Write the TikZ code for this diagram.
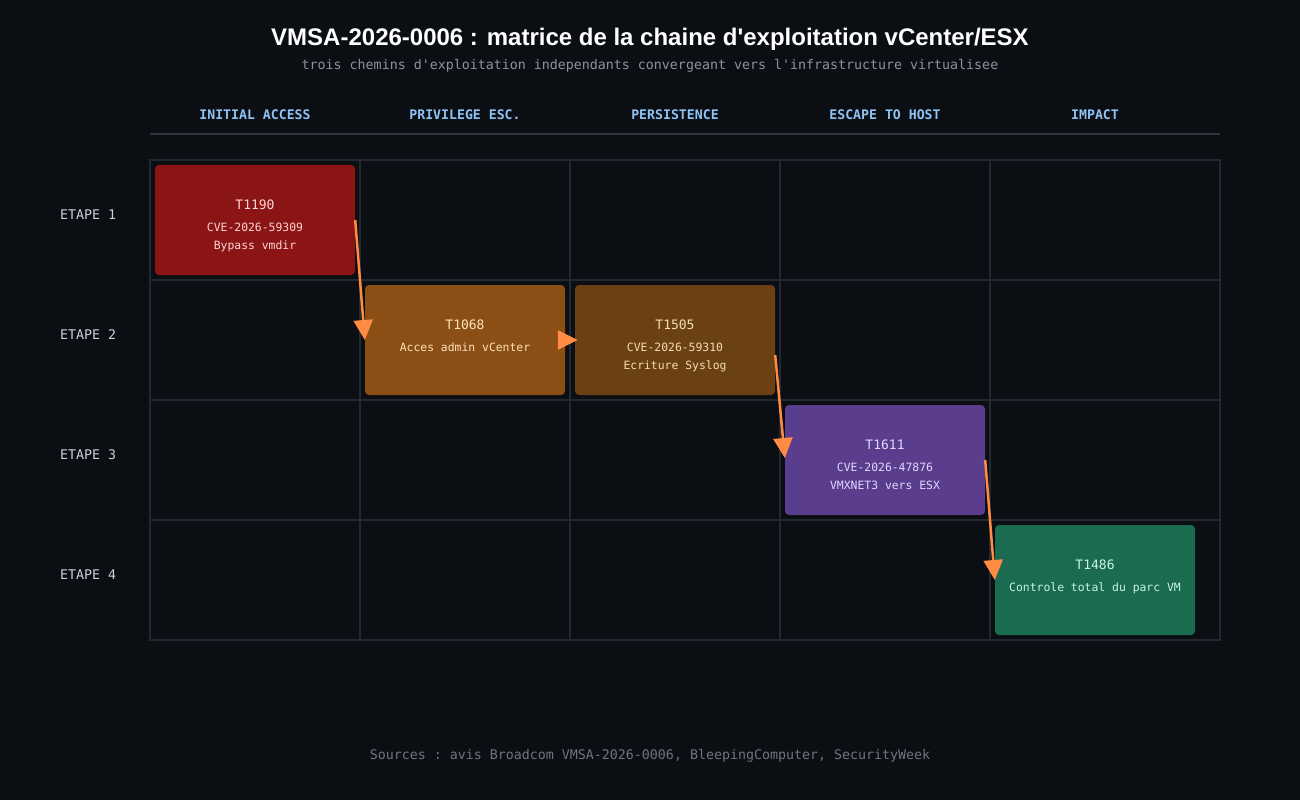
\documentclass[tikz,border=0pt]{standalone}
\usepackage{fontspec}
\setmainfont{Liberation Sans}
\setmonofont{DejaVu Sans Mono}
\usetikzlibrary{arrows.meta,calc}
\definecolor{bg}{HTML}{0B0E13}
\definecolor{gridc}{HTML}{222930}
\definecolor{hdrline}{HTML}{30363D}
\definecolor{hdrtxt}{HTML}{8EC3F5}
\definecolor{rowtxt}{HTML}{C9D1D9}
\definecolor{subtxt}{HTML}{8B949E}
\definecolor{foottxt}{HTML}{6E7681}
\definecolor{arrc}{HTML}{FF8C42}
\definecolor{cred}{HTML}{8B1515}
\definecolor{corange}{HTML}{8B4F15}
\definecolor{cbrown}{HTML}{6B4013}
\definecolor{cpurple}{HTML}{5A3D8C}
\definecolor{cgreen}{HTML}{1B6B50}
\definecolor{tred}{HTML}{FFD4D4}
\definecolor{torange}{HTML}{FFE2B8}
\definecolor{tbrown}{HTML}{F5DDB5}
\definecolor{tpurple}{HTML}{E2D6FF}
\definecolor{tgreen}{HTML}{C8F5E0}
\begin{document}
\begin{tikzpicture}[x=1pt,y=-1pt,
  tbox/.style={rectangle,rounded corners=4pt,minimum width=200pt,minimum height=110pt,inner sep=0pt,draw=none},
  ttl/.style={font=\fontsize{13}{15}\selectfont\ttfamily,anchor=center,inner sep=0pt,text height=9.5pt,text depth=0.5pt},
  sub/.style={font=\fontsize{11.4}{13}\selectfont\ttfamily,anchor=center,inner sep=0pt,text height=8.5pt,text depth=0.5pt},
  hdr/.style={font=\fontsize{13.2}{15}\selectfont\ttfamily\bfseries,text=hdrtxt,anchor=center,inner sep=0pt,text height=9.5pt,text depth=0.5pt},
  rowl/.style={font=\fontsize{13.3}{15}\selectfont\ttfamily,text=rowtxt,anchor=west,inner sep=0pt,text height=9.5pt,text depth=0.5pt},
  arr/.style={draw=arrc,line width=2.5pt,-{Triangle[length=20pt,width=19pt]}}]
\fill[bg] (0,0) rectangle (1300,800);
\useasboundingbox (0,0) rectangle (1300,800);
% title
\node[font=\fontsize{24}{28}\selectfont\bfseries,text=white,inner sep=0pt,text height=17.5pt,text depth=0.5pt] (title) at (650,37) {VMSA-2026-0006 : matrice de la chaine d\textquotesingle exploitation vCenter/ESX};
\node[font=\fontsize{13.3}{15}\selectfont\ttfamily,text=subtxt,inner sep=0pt,text height=9.5pt,text depth=0.5pt] (subtitle) at (650,65) {trois chemins d'exploitation independants convergeant vers l'infrastructure virtualisee};
% headers
\node[hdr] (h1) at (255,115) {INITIAL ACCESS};
\node[hdr] (h2) at (465,115) {PRIVILEGE ESC.};
\node[hdr] (h3) at (675,115) {PERSISTENCE};
\node[hdr] (h4) at (885,115) {ESCAPE TO HOST};
\node[hdr] (h5) at (1095,115) {IMPACT};
\draw[hdrline,line width=1.5pt] (150,134) -- (1220,134);
% grid
\draw[gridc,line width=1.2pt] (150,160) rectangle (1220,640);
\foreach \x in {360,570,780,990} \draw[gridc,line width=1.2pt] (\x,160) -- (\x,640);
\foreach \y in {280,400,520} \draw[gridc,line width=1.2pt] (150,\y) -- (1220,\y);
% row labels
\node[rowl] (r1) at (60,215) {ETAPE 1};
\node[rowl] (r2) at (60,335) {ETAPE 2};
\node[rowl] (r3) at (60,455) {ETAPE 3};
\node[rowl] (r4) at (60,575) {ETAPE 4};
% boxes
\node[tbox,fill=cred] (b1) at (255,220) {};
\node[tbox,fill=corange] (b2) at (465,340) {};
\node[tbox,fill=cbrown] (b3) at (675,340) {};
\node[tbox,fill=cpurple] (b4) at (885,460) {};
\node[tbox,fill=cgreen] (b5) at (1095,580) {};
% box texts
\node[ttl,text=tred] (b1t) at ($(b1.north)+(0,40)$) {T1190};
\node[sub,text=tred] (b1a) at ($(b1.north)+(0,63)$) {CVE-2026-59309};
\node[sub,text=tred] (b1b) at ($(b1.north)+(0,81)$) {Bypass vmdir};
\node[ttl,text=torange] (b2t) at ($(b2.north)+(0,40)$) {T1068};
\node[sub,text=torange] (b2a) at ($(b2.north)+(0,63)$) {Acces admin vCenter};
\node[ttl,text=tbrown] (b3t) at ($(b3.north)+(0,40)$) {T1505};
\node[sub,text=tbrown] (b3a) at ($(b3.north)+(0,63)$) {CVE-2026-59310};
\node[sub,text=tbrown] (b3b) at ($(b3.north)+(0,81)$) {Ecriture Syslog};
\node[ttl,text=tpurple] (b4t) at ($(b4.north)+(0,40)$) {T1611};
\node[sub,text=tpurple] (b4a) at ($(b4.north)+(0,63)$) {CVE-2026-47876};
\node[sub,text=tpurple] (b4b) at ($(b4.north)+(0,81)$) {VMXNET3 vers ESX};
\node[ttl,text=tgreen] (b5t) at ($(b5.north)+(0,40)$) {T1486};
\node[sub,text=tgreen] (b5a) at ($(b5.north)+(0,63)$) {Controle total du parc VM};
% arrows
\draw[arr] (b1.east) -- (b2.west);
\draw[arr,shorten <=-8pt,shorten >=-3pt] (b2.east) -- (b3.west);
\draw[arr] ($(b3.east)+(0,15)$) -- ($(b4.west)+(0,-2)$);
\draw[arr] (b4.east) -- (b5.west);
% footer
\node[font=\fontsize{13.3}{15}\selectfont\ttfamily,text=foottxt,inner sep=0pt,text height=9.5pt,text depth=0.5pt] (footer) at (650,755) {Sources : avis Broadcom VMSA-2026-0006, BleepingComputer, SecurityWeek};
\end{tikzpicture}
\end{document}
